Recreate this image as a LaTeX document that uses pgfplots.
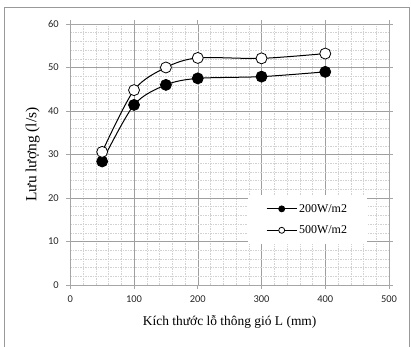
\documentclass[border=0pt]{standalone}
\usepackage{pgfplots}
\pgfplotsset{compat=1.18}
\usepackage{fontspec}
\setmainfont{Liberation Serif}
\newfontfamily\tickfont{Carlito}
\begin{document}
\begin{tikzpicture}[x=1bp,y=1bp]
\useasboundingbox (0,0) rectangle (411,347);
\draw[line width=0.8bp, gray!80] (4,-10) -- (4,340) -- (409,340) -- (409,-10);
\begin{axis}[
  at={(70.3bp,62bp)}, anchor=south west,
  scale only axis, width=318.7bp, height=261bp,
  xmin=0, xmax=500, ymin=0, ymax=60,
  xtick={0,100,...,500}, ytick={0,10,...,60},
  minor x tick num=4, minor y tick num=4,
  grid=both,
  major grid style={gray!75, line width=0.5bp},
  minor grid style={gray!35, dash pattern=on 1.5bp off 1bp, line width=0.4bp},
  axis line style={gray!70, line width=0.6bp},
  tick style={gray!70, line width=0.6bp},
  tick align=outside, major tick length=4bp, minor tick length=0bp,
  ticklabel style={font=\tickfont\fontsize{10.5}{12}\selectfont, text=black!85},
  /pgf/number format/assume math mode=true,
  xticklabel style={yshift=-3bp},
  yticklabel style={xshift=-4bp},
  xlabel={Kích thước lỗ thông gió L (mm)},
  ylabel={Lưu lượng (l/s)},
  xlabel style={font=\fontsize{13.5}{15}\selectfont, at={(axis description cs:0.5,-0.1418)}, anchor=center},
  ylabel style={font=\fontsize{15.5}{17}\selectfont, at={(axis description cs:-0.118,0.5)}, anchor=center},
  legend style={at={(axis cs:278.8,20.7)}, anchor=north west, draw=none, fill=white,
    font=\fontsize{12}{13}\selectfont, inner xsep=18bp, inner ysep=7bp,
    row sep=8bp},
  legend cell align=left,
  legend image code/.code={\draw[mark repeat=2,mark phase=2,#1, mark size=3bp, line width=1bp] plot coordinates {(0bp,0bp) (15bp,0bp) (30bp,0bp)};},
]
\addplot[black, line width=1bp, smooth, tension=0.5, mark=*, mark size=5.5bp, mark options={fill=black, line width=0.8bp}]
  coordinates {(50,28.4) (100,41.4) (150,46.0) (200,47.5) (300,47.9) (400,49.0)};
\addlegendentry{200W/m2}
\addplot[black, line width=1bp, smooth, tension=0.5, mark=*, mark size=5.5bp, mark options={fill=white, line width=0.8bp}]
  coordinates {(50,30.6) (100,44.8) (150,50.0) (200,52.2) (300,52.1) (400,53.2)};
\addlegendentry{500W/m2}
\end{axis}
\end{tikzpicture}
\end{document}
